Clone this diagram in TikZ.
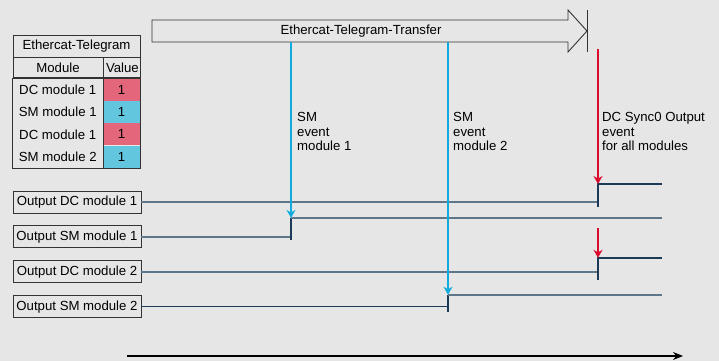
\documentclass[tikz,border=0pt]{standalone}
\usepackage{fontspec}
\setmainfont{Liberation Sans}
\usetikzlibrary{arrows.meta,positioning}
\definecolor{bggray}{HTML}{E6E6E6}
\definecolor{cellred}{HTML}{E4667A}
\definecolor{cellblue}{HTML}{62C6DE}
\definecolor{evcyan}{HTML}{10AADC}
\definecolor{evred}{HTML}{DC0A2D}
\definecolor{sigsteel}{HTML}{5E7689}
\definecolor{signavy}{HTML}{1C3A58}

\begin{document}
\begin{tikzpicture}[x=1pt, y=-1pt, node distance=12pt,
    font=\fontsize{13.2}{14.5}\selectfont,
    every node/.style={inner sep=0pt},
    cell/.style={draw=black!80, line width=0.9pt, minimum height=22pt},
    rowcell/.style={minimum width=90pt, minimum height=22pt, anchor=north west},
    valred/.style={fill=cellred, minimum width=37pt, minimum height=22pt, anchor=north west},
    valblue/.style={fill=cellblue, minimum width=37pt, minimum height=22pt, anchor=north west},
    outbox/.style={draw=black!80, line width=0.9pt, minimum width=128pt, minimum height=22pt},
    evtext/.style={align=left, anchor=north west},
    siglow/.style={draw=sigsteel, line width=1.6pt},
    sighigh/.style={draw=signavy, line width=1.5pt},
    cyanev/.style={draw=evcyan, line width=1.4pt, -{Stealth[length=8pt,width=9pt]}},
    redev/.style={draw=evred, line width=1.4pt, -{Stealth[length=8pt,width=9pt]}}]

  \fill[bggray] (0,0) rectangle (719,361);

  % telegram table
  \node (title) [cell, minimum width=127pt] at (76.5,46) {Ethercat-Telegram};
  \node (hmod) [cell, minimum width=90pt, minimum height=20pt, anchor=north west] at (title.south west) {Module};
  \node (hval) [cell, minimum width=37pt, minimum height=20pt, anchor=north west] at (hmod.north east) {Value};
  \node (m1) [rowcell] at (hmod.south west) {DC module 1};
  \node (m2) [rowcell] at (m1.south west) {SM module 1};
  \node (m3) [rowcell] at (m2.south west) {DC module 1};
  \node (m4) [rowcell] at (m3.south west) {SM module 2};
  \node (v1) [valred] at (m1.north east) {1};
  \node (v2) [valblue] at (m2.north east) {1};
  \node (v3) [valred] at (m3.north east) {1};
  \node (v4) [valblue] at (m4.north east) {1};
  \draw[black!80, line width=0.9pt] (m1.north west) rectangle (v4.south east);
  \draw[black!80, line width=0.9pt] (v1.north west) -- (v4.south west);

  % transfer arrow
  \draw[black!80, line width=0.9pt] (152,20) -- (568,20) -- (568,10) -- (587,31)
    -- (568,52) -- (568,42) -- (152,42) -- cycle;
  \draw[black!80, line width=0.9pt] (587,10) -- (587,52);
  \node (transfer) at (361,31) {Ethercat-Telegram-Transfer};

  % event points
  \coordinate (tsm1) at (291,42);
  \coordinate (tsm2) at (448,42);
  \coordinate (tdc) at (598,49);
  \coordinate (tdc2) at (598,228);
  \coordinate (tend) at (662,0);

  % outputs
  \node (odc1) [outbox] at (77,202) {Output DC module 1};
  \node (osm1) [outbox, below=of odc1] {Output SM module 1};
  \node (odc2) [outbox, below=of osm1] {Output DC module 2};
  \node (osm2) [outbox, below=of odc2] {Output SM module 2};

  \draw[siglow] (odc1.east) -- (odc1.east -| tdc);
  \draw[sighigh] (odc1.east -| tdc) ++(0,5) -- ++(0,-23) coordinate (dc1hi) -- (dc1hi -| tend);
  \draw[siglow] (osm1.east) -- (osm1.east -| tsm1);
  \draw[sighigh] (osm1.east -| tsm1) ++(0,3) -- ++(0,-22) coordinate (sm1hi);
  \draw[siglow] (sm1hi) -- (sm1hi -| tend);
  \draw[siglow] (odc2.east) -- (odc2.east -| tdc);
  \draw[sighigh] (odc2.east -| tdc) ++(0,8) -- ++(0,-22) coordinate (dc2hi) -- (dc2hi -| tend);
  \draw[sighigh] (osm2.east) -- (osm2.east -| tsm2);
  \draw[sighigh] (osm2.east -| tsm2) ++(0,5) -- ++(0,-17) coordinate (sm2hi);
  \draw[siglow] (sm2hi) -- (sm2hi -| tend);

  % events
  \draw[cyanev] (tsm1) -- (sm1hi);
  \draw[cyanev] (tsm2) -- (sm2hi);
  \draw[redev] (tdc) -- (dc1hi);
  \draw[redev] (tdc2) -- (dc2hi);

  \node (txsm1) [evtext] at (297,112.5) {SM\\event\\module 1};
  \node (txsm2) [evtext] at (453,112.5) {SM\\event\\module 2};
  \node (txdc) [evtext] at (602,112.5) {DC Sync0 Output\\event\\for all modules};

  % time axis
  \coordinate (t0) at (127,356);
  \coordinate (t1) at (683,356);
  \draw[line width=1.2pt, -{Stealth[length=10pt,width=8pt]}] (t0) -- (t1);
\end{tikzpicture}
\end{document}
